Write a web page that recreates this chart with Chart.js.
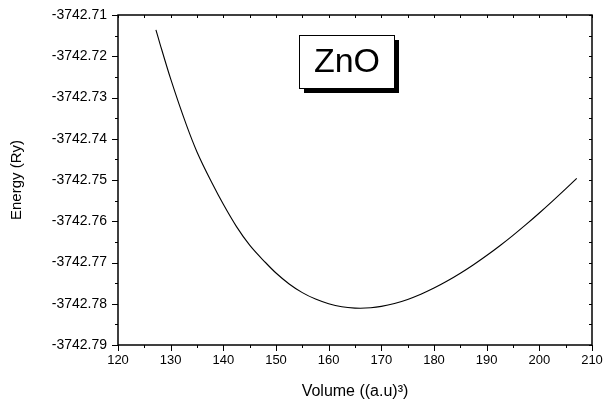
<!DOCTYPE html>
<html>
<head>
<meta charset="utf-8">
<script src="https://cdn.jsdelivr.net/npm/chart.js@4/dist/chart.umd.min.js"></script>
<style>
  html, body { margin: 0; padding: 0; background: #fff; }
  #wrap { width: 604px; height: 405px; }
</style>
</head>
<body>
<div id="wrap"><canvas id="c" width="604" height="405"></canvas></div>
<script>
// Energy–volume curve of ZnO
const volume = [127.2, 128, 130, 133, 135, 138, 140, 142.5, 145, 148, 150, 152.5, 155, 157.5,
                160, 162.5, 165, 166, 168, 170, 172.5, 175, 177.5, 180, 182.5, 185, 187.5,
                190, 192.5, 195, 197.5, 200, 202.5, 205, 207.1];
const energy = [-3742.71360, -3742.71710, -3742.72550, -3742.73670, -3742.74320, -3742.75110,
                -3742.75590, -3742.76130, -3742.76580, -3742.77000, -3742.77255, -3742.77520,
                -3742.77730, -3742.77886, -3742.77998, -3742.78072, -3742.78107, -3742.78110,
                -3742.78098, -3742.78064, -3742.77994, -3742.77895, -3742.77770, -3742.77621,
                -3742.77451, -3742.77262, -3742.77055, -3742.76832, -3742.76594, -3742.76342,
                -3742.76077, -3742.75800, -3742.75512, -3742.75216, -3742.74960];
const xTicks = [120, 130, 140, 150, 160, 170, 180, 190, 200, 210];
const yTicks = [-3742.79, -3742.78, -3742.77, -3742.76, -3742.75, -3742.74, -3742.73, -3742.72, -3742.71];
const compound = 'ZnO';

const points = volume.map((v, i) => ({ x: v, y: energy[i] }));
const FONT = '"Liberation Sans", Arial, sans-serif';

// frame, tick marks and the labelled box
const framePlugin = {
  id: 'frame',
  afterDraw(chart) {
    const { ctx, chartArea: a, scales: { x, y } } = chart;
    ctx.save();
    ctx.strokeStyle = '#000';
    ctx.lineWidth = 1.5;
    ctx.strokeRect(a.left, a.top, a.right - a.left, a.bottom - a.top);
    ctx.lineWidth = 1;
    ctx.beginPath();
    // x ticks: outward on bottom, inward on top
    for (let k = 0; k <= 18; k++) {
      const v = x.min + k * 5;
      const px = Math.round(x.getPixelForValue(v)) + 0.5;
      const major = k % 2 === 0;
      ctx.moveTo(px, a.bottom);
      ctx.lineTo(px, a.bottom + (major ? 6 : 3));
      ctx.moveTo(px, a.top);
      ctx.lineTo(px, a.top + 3);
    }
    // y ticks: outward on left, inward on right
    for (let k = 0; k <= 16; k++) {
      const v = y.min + k * 0.005;
      const py = Math.round(y.getPixelForValue(v)) + 0.5;
      const major = k % 2 === 0;
      ctx.moveTo(a.left, py);
      ctx.lineTo(a.left - (major ? 6 : 3), py);
      ctx.moveTo(a.right, py);
      ctx.lineTo(a.right - 3, py);
    }
    ctx.stroke();

    // compound label with drop shadow
    const bx = a.left + 181, by = a.top + 20, bw = 95, bh = 53;
    ctx.fillStyle = '#000';
    ctx.fillRect(bx + 5, by + 5, bw, bh);
    ctx.fillStyle = '#fff';
    ctx.fillRect(bx, by, bw, bh);
    ctx.lineWidth = 1;
    ctx.strokeRect(bx + 0.5, by + 0.5, bw, bh);
    ctx.fillStyle = '#000';
    ctx.font = '34px ' + FONT;
    ctx.textAlign = 'center';
    ctx.textBaseline = 'middle';
    ctx.fillText(compound, bx + bw / 2 + 0.5, by + bh / 2 + 1);
    ctx.restore();
  }
};

new Chart(document.getElementById('c'), {
  type: 'scatter',
  data: {
    datasets: [{
      data: points,
      showLine: true,
      borderColor: '#000',
      borderWidth: 1.1,
      pointRadius: 0,
      cubicInterpolationMode: 'monotone',
      fill: false
    }]
  },
  options: {
    responsive: false,
    animation: false,
    devicePixelRatio: 1,
    layout: { padding: { top: 15, right: 12, left: 0, bottom: 0 } },
    plugins: { legend: { display: false }, tooltip: { enabled: false } },
    scales: {
      x: {
        type: 'linear',
        min: 120, max: 210,
        afterBuildTicks(s) { s.ticks = xTicks.map(v => ({ value: v })); },
        afterFit(s) { s.height = 60; s.paddingLeft = 0; s.paddingRight = 0; },
        grid: { display: false, drawTicks: false },
        border: { display: false },
        ticks: { color: '#000', padding: 8, font: { family: FONT, size: 13 }, maxRotation: 0,
                 callback: v => String(v) },
        title: { display: true, text: 'Volume ((a.u)\u00B3)', color: '#000',
                 font: { family: FONT, size: 16 }, padding: { top: 4, bottom: 4 } }
      },
      y: {
        type: 'linear',
        min: -3742.79, max: -3742.71,
        afterBuildTicks(s) { s.ticks = yTicks.map(v => ({ value: v })); },
        afterFit(s) { s.width = 118; s.paddingTop = 0; s.paddingBottom = 0; },
        grid: { display: false, drawTicks: false },
        border: { display: false },
        ticks: { color: '#000', padding: 11, font: { family: FONT, size: 14 },
                 callback: v => v.toFixed(2) },
        title: { display: true, text: 'Energy (Ry)', color: '#000',
                 font: { family: FONT, size: 15 }, padding: { top: 8, bottom: 0 } }
      }
    }
  },
  plugins: [framePlugin]
});
</script>
</body>
</html>
